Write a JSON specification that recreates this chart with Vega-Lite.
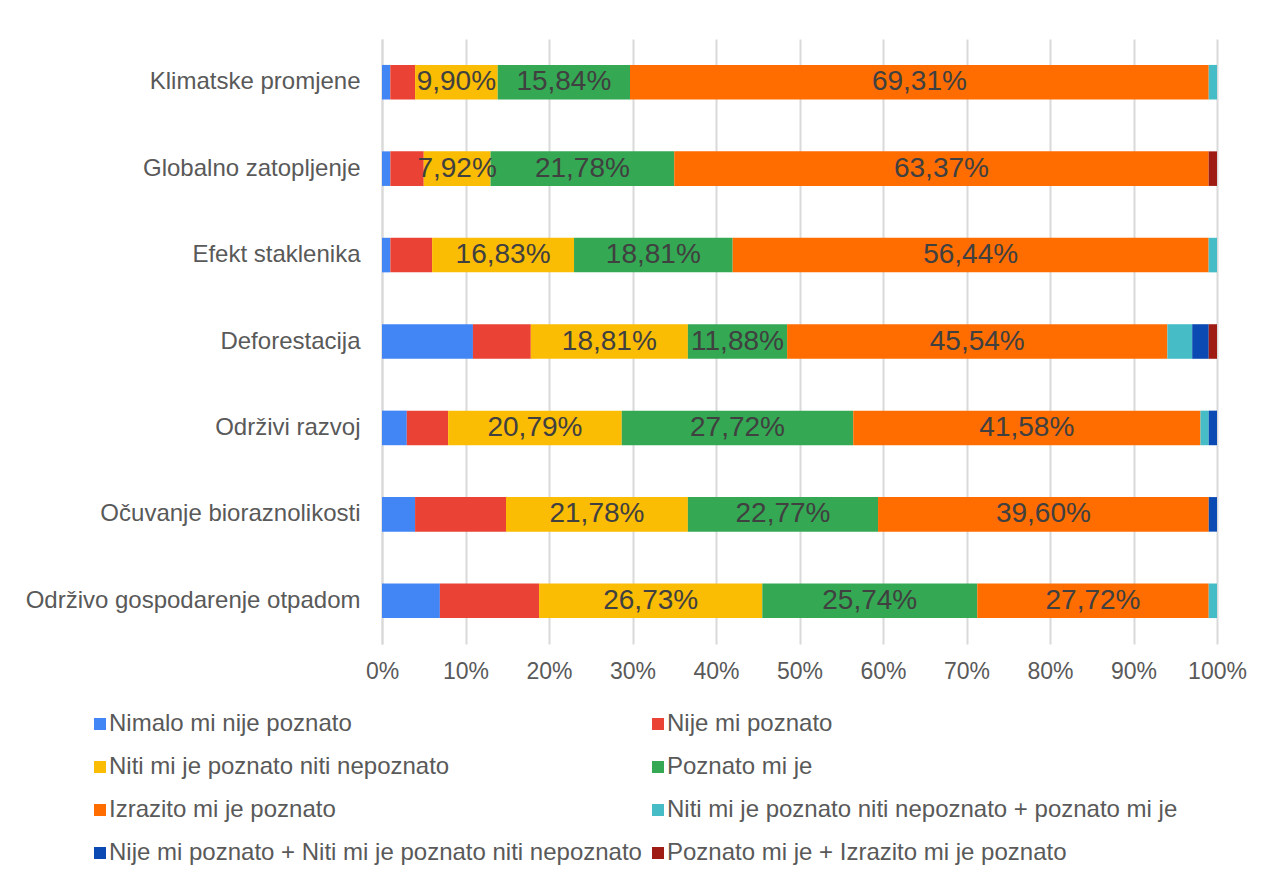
{
  "$schema": "https://vega.github.io/schema/vega-lite/v6.json",
  "width": 835,
  "height": 605,
  "autosize": {"type": "none"},
  "padding": {"left": 382, "top": 39, "right": 49, "bottom": 236},
  "background": "white",
  "config": {
    "font": "Liberation Sans",
    "view": {"stroke": null}
  },
  "data": {
    "values": [
      {"t": "Klimatske promjene", "c": "Nimalo mi nije poznato", "o": 1, "v": 0.99, "l": ""},
      {"t": "Klimatske promjene", "c": "Nije mi poznato", "o": 2, "v": 2.97, "l": ""},
      {"t": "Klimatske promjene", "c": "Niti mi je poznato niti nepoznato", "o": 3, "v": 9.90, "l": "9,90%"},
      {"t": "Klimatske promjene", "c": "Poznato mi je", "o": 4, "v": 15.84, "l": "15,84%"},
      {"t": "Klimatske promjene", "c": "Izrazito mi je poznato", "o": 5, "v": 69.31, "l": "69,31%"},
      {"t": "Klimatske promjene", "c": "Niti mi je poznato niti nepoznato + poznato mi je", "o": 6, "v": 0.99, "l": ""},

      {"t": "Globalno zatopljenje", "c": "Nimalo mi nije poznato", "o": 1, "v": 0.99, "l": ""},
      {"t": "Globalno zatopljenje", "c": "Nije mi poznato", "o": 2, "v": 3.96, "l": ""},
      {"t": "Globalno zatopljenje", "c": "Niti mi je poznato niti nepoznato", "o": 3, "v": 7.92, "l": "7,92%"},
      {"t": "Globalno zatopljenje", "c": "Poznato mi je", "o": 4, "v": 21.78, "l": "21,78%"},
      {"t": "Globalno zatopljenje", "c": "Izrazito mi je poznato", "o": 5, "v": 63.37, "l": "63,37%"},
      {"t": "Globalno zatopljenje", "c": "Poznato mi je + Izrazito mi je poznato", "o": 8, "v": 0.99, "l": ""},

      {"t": "Efekt staklenika", "c": "Nimalo mi nije poznato", "o": 1, "v": 0.99, "l": ""},
      {"t": "Efekt staklenika", "c": "Nije mi poznato", "o": 2, "v": 4.95, "l": ""},
      {"t": "Efekt staklenika", "c": "Niti mi je poznato niti nepoznato", "o": 3, "v": 16.83, "l": "16,83%"},
      {"t": "Efekt staklenika", "c": "Poznato mi je", "o": 4, "v": 18.81, "l": "18,81%"},
      {"t": "Efekt staklenika", "c": "Izrazito mi je poznato", "o": 5, "v": 56.44, "l": "56,44%"},
      {"t": "Efekt staklenika", "c": "Niti mi je poznato niti nepoznato + poznato mi je", "o": 6, "v": 0.99, "l": ""},

      {"t": "Deforestacija", "c": "Nimalo mi nije poznato", "o": 1, "v": 10.89, "l": ""},
      {"t": "Deforestacija", "c": "Nije mi poznato", "o": 2, "v": 6.93, "l": ""},
      {"t": "Deforestacija", "c": "Niti mi je poznato niti nepoznato", "o": 3, "v": 18.81, "l": "18,81%"},
      {"t": "Deforestacija", "c": "Poznato mi je", "o": 4, "v": 11.88, "l": "11,88%"},
      {"t": "Deforestacija", "c": "Izrazito mi je poznato", "o": 5, "v": 45.54, "l": "45,54%"},
      {"t": "Deforestacija", "c": "Niti mi je poznato niti nepoznato + poznato mi je", "o": 6, "v": 2.97, "l": ""},
      {"t": "Deforestacija", "c": "Nije mi poznato + Niti mi je poznato niti nepoznato", "o": 7, "v": 1.98, "l": ""},
      {"t": "Deforestacija", "c": "Poznato mi je + Izrazito mi je poznato", "o": 8, "v": 0.99, "l": ""},

      {"t": "Održivi razvoj", "c": "Nimalo mi nije poznato", "o": 1, "v": 2.97, "l": ""},
      {"t": "Održivi razvoj", "c": "Nije mi poznato", "o": 2, "v": 4.95, "l": ""},
      {"t": "Održivi razvoj", "c": "Niti mi je poznato niti nepoznato", "o": 3, "v": 20.79, "l": "20,79%"},
      {"t": "Održivi razvoj", "c": "Poznato mi je", "o": 4, "v": 27.72, "l": "27,72%"},
      {"t": "Održivi razvoj", "c": "Izrazito mi je poznato", "o": 5, "v": 41.58, "l": "41,58%"},
      {"t": "Održivi razvoj", "c": "Niti mi je poznato niti nepoznato + poznato mi je", "o": 6, "v": 0.99, "l": ""},
      {"t": "Održivi razvoj", "c": "Nije mi poznato + Niti mi je poznato niti nepoznato", "o": 7, "v": 0.99, "l": ""},

      {"t": "Očuvanje bioraznolikosti", "c": "Nimalo mi nije poznato", "o": 1, "v": 3.96, "l": ""},
      {"t": "Očuvanje bioraznolikosti", "c": "Nije mi poznato", "o": 2, "v": 10.89, "l": ""},
      {"t": "Očuvanje bioraznolikosti", "c": "Niti mi je poznato niti nepoznato", "o": 3, "v": 21.78, "l": "21,78%"},
      {"t": "Očuvanje bioraznolikosti", "c": "Poznato mi je", "o": 4, "v": 22.77, "l": "22,77%"},
      {"t": "Očuvanje bioraznolikosti", "c": "Izrazito mi je poznato", "o": 5, "v": 39.60, "l": "39,60%"},
      {"t": "Očuvanje bioraznolikosti", "c": "Nije mi poznato + Niti mi je poznato niti nepoznato", "o": 7, "v": 0.99, "l": ""},

      {"t": "Održivo gospodarenje otpadom", "c": "Nimalo mi nije poznato", "o": 1, "v": 6.93, "l": ""},
      {"t": "Održivo gospodarenje otpadom", "c": "Nije mi poznato", "o": 2, "v": 11.88, "l": ""},
      {"t": "Održivo gospodarenje otpadom", "c": "Niti mi je poznato niti nepoznato", "o": 3, "v": 26.73, "l": "26,73%"},
      {"t": "Održivo gospodarenje otpadom", "c": "Poznato mi je", "o": 4, "v": 25.74, "l": "25,74%"},
      {"t": "Održivo gospodarenje otpadom", "c": "Izrazito mi je poznato", "o": 5, "v": 27.72, "l": "27,72%"},
      {"t": "Održivo gospodarenje otpadom", "c": "Niti mi je poznato niti nepoznato + poznato mi je", "o": 6, "v": 0.99, "l": ""}
    ]
  },
  "encoding": {
    "y": {
      "field": "t",
      "type": "nominal",
      "sort": ["Klimatske promjene", "Globalno zatopljenje", "Efekt staklenika", "Deforestacija", "Održivi razvoj", "Očuvanje bioraznolikosti", "Održivo gospodarenje otpadom"],
      "scale": {"paddingInner": 0.6, "paddingOuter": 0.3},
      "axis": {
        "title": null,
        "ticks": false,
        "labelPadding": 22,
        "labelFontSize": 24,
        "labelColor": "#595959",
        "labelLimit": 0,
        "domainColor": "#d9d9d9",
        "domainWidth": 2
      }
    },
    "x": {
      "field": "v",
      "type": "quantitative",
      "stack": "normalize",
      "scale": {"domain": [0, 1]},
      "axis": {
        "title": null,
        "format": ".0%",
        "values": [0, 0.1, 0.2, 0.3, 0.4, 0.5, 0.6, 0.7, 0.8, 0.9, 1],
        "labelOverlap": false,
        "ticks": false,
        "domain": false,
        "labelPadding": 16,
        "labelFontSize": 23,
        "labelColor": "#595959",
        "labelFlush": false,
        "grid": true,
        "gridColor": "#d9d9d9",
        "gridWidth": 2
      }
    },
    "order": {"field": "o", "type": "quantitative"}
  },
  "layer": [
    {
      "mark": {"type": "bar"},
      "encoding": {
        "color": {
          "field": "c",
          "type": "nominal",
          "scale": {
            "domain": ["Nimalo mi nije poznato", "Nije mi poznato", "Niti mi je poznato niti nepoznato", "Poznato mi je", "Izrazito mi je poznato", "Niti mi je poznato niti nepoznato + poznato mi je", "Nije mi poznato + Niti mi je poznato niti nepoznato", "Poznato mi je + Izrazito mi je poznato"],
            "range": ["#4285F4", "#EA4335", "#FBBC04", "#34A853", "#FF6D01", "#46BDC6", "#0B4AB2", "#9E1C14"]
          },
          "legend": {
            "title": null,
            "orient": "none",
            "legendX": -294,
            "legendY": 673,
            "direction": "horizontal",
            "columns": 2,
            "gridAlign": "all",
            "columnPadding": 4,
            "rowPadding": 19,
            "symbolType": "square",
            "symbolSize": 144,
            "symbolStrokeWidth": 0,
            "labelOffset": -3,
            "labelFontSize": 24,
            "labelColor": "#595959",
            "labelLimit": 0
          }
        }
      }
    },
    {
      "mark": {"type": "text", "fontSize": 28, "color": "#404040", "align": "center", "baseline": "middle"},
      "encoding": {
        "x": {"field": "v", "type": "quantitative", "stack": "normalize", "bandPosition": 0.5},
        "text": {"field": "l", "type": "nominal"}
      }
    }
  ]
}
